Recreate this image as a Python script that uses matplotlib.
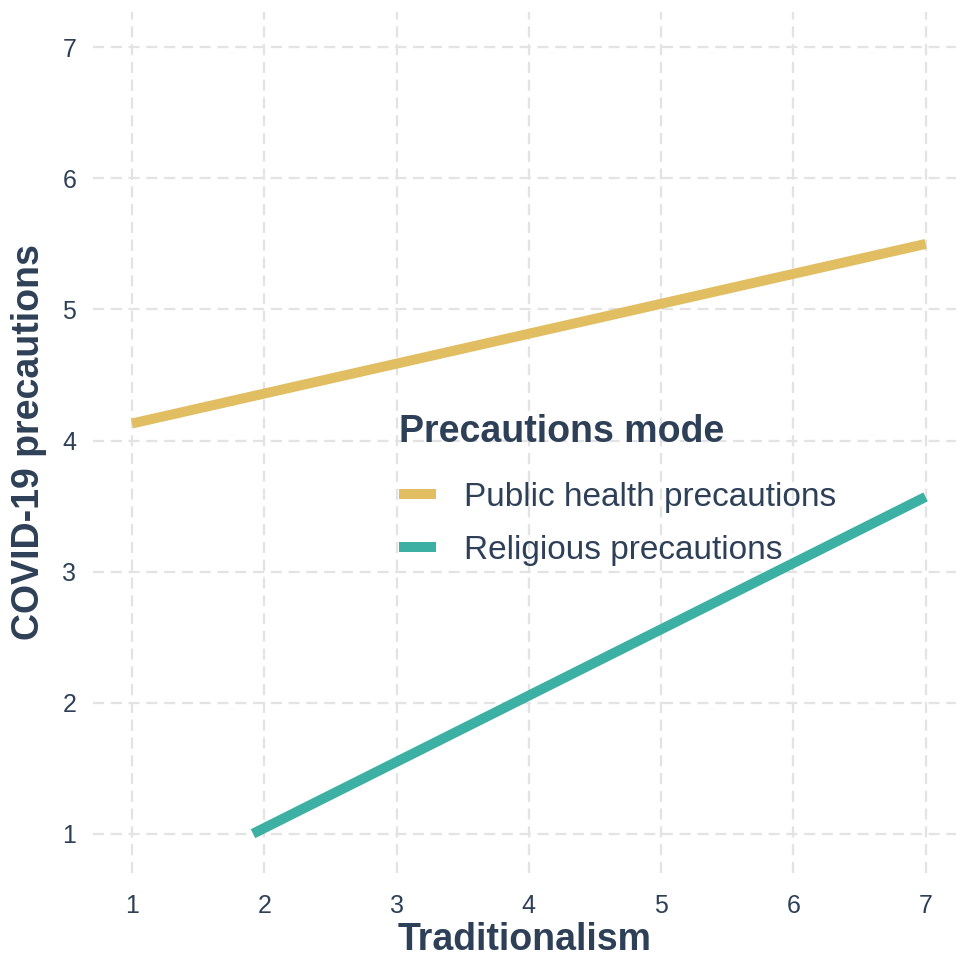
import numpy as np
import matplotlib.pyplot as plt

plt.rcParams['font.family'] = ['Liberation Sans', 'DejaVu Sans']

# fitted lines
public_x = [1, 7]
public_y = [4.13, 5.50]
relig_x = [1.915, 7]
relig_y = [1.0, 3.57]

ticks = [1, 2, 3, 4, 5, 6, 7]

text_col = '#2E4057'
gold = '#E1BE62'
teal = '#3CB0A2'

fig = plt.figure(figsize=(9.62, 9.60), dpi=100)
ax = fig.add_axes([93/962, 87/960, (956-93)/962, (948-87)/960])

ax.plot(public_x, public_y, color=gold, lw=7.2, solid_capstyle='butt', label='Public health precautions')
ax.plot(relig_x, relig_y, color=teal, lw=7.2, solid_capstyle='butt', label='Religious precautions')

ax.set_xlim(0.705, 7.23)
ax.set_ylim(0.70, 7.27)
ax.set_xticks(ticks)
ax.set_yticks(ticks)
ax.grid(True, color='#E3E3E3', ls=(0, (5, 3)), lw=1.6)
ax.set_axisbelow(True)
for s in ax.spines.values():
    s.set_visible(False)
ax.tick_params(length=0, labelsize=18, labelcolor=text_col)
ax.tick_params(axis='y', pad=12)
ax.tick_params(axis='x', pad=15)

ax.set_xlabel('Traditionalism', fontsize=27, fontweight='bold', color=text_col, labelpad=3)
ax.set_ylabel('COVID-19 precautions', fontsize=27, fontweight='bold', color=text_col, labelpad=11)

leg = ax.legend(loc='upper left', bbox_to_anchor=(369/962, 1 - 384/960), bbox_transform=fig.transFigure,
                frameon=False, fontsize=24, title='Precautions mode',
                title_fontproperties={'size': 27, 'weight': 'bold'},
                handlelength=1.1, handletextpad=0.85, labelspacing=0.66, alignment='left')
leg._legend_box.sep = 23
leg.get_title().set_color(text_col)
for t in leg.get_texts():
    t.set_color(text_col)

fig.savefig('out.png', dpi=100)
